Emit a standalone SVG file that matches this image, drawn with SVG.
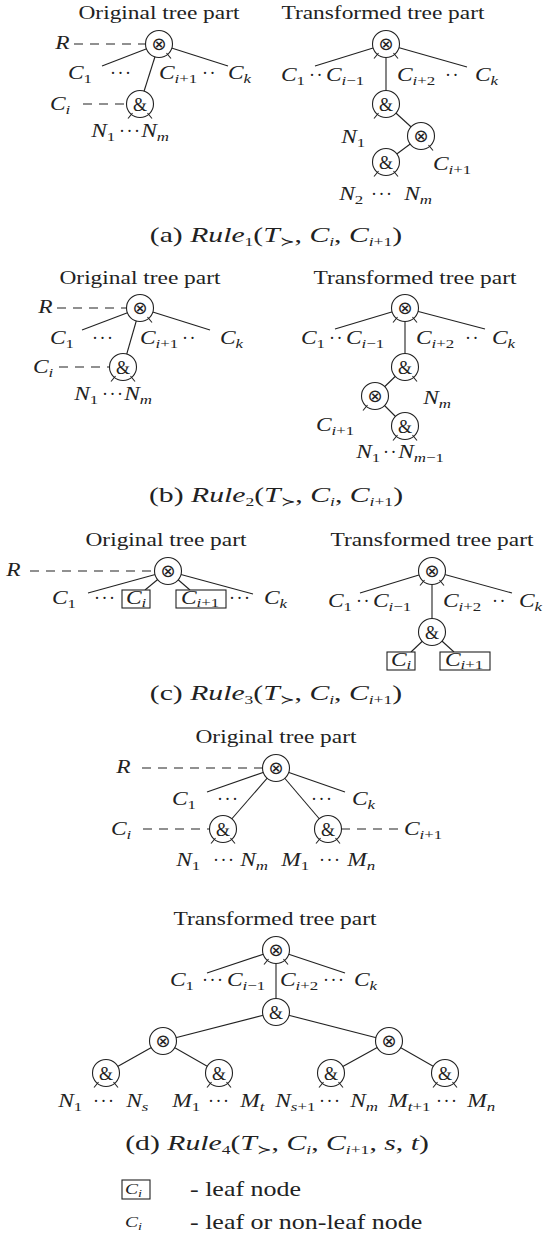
<svg xmlns="http://www.w3.org/2000/svg" width="546" height="1236" viewBox="0 0 546 1236">
<style>
text{font-family:"Liberation Serif","DejaVu Serif",serif;fill:#222}
.ti{font-size:18px;text-anchor:middle;transform-box:fill-box;transform-origin:50% 50%;transform:scaleX(1.3)}
.lb{font-size:18px;font-style:italic;transform-box:fill-box;transform-origin:0 0;transform:scaleX(1.3)}
.sb{font-size:13px}
.up{font-style:normal}
.it{font-style:italic}
.dt{font-size:18px;letter-spacing:1.5px}
.cap{font-size:22px;text-anchor:middle;transform-box:fill-box;transform-origin:50% 50%;transform:scaleX(1.35)}
.op{font-family:"DejaVu Sans",sans-serif;font-size:18px;text-anchor:middle}
.amp{font-size:18px;text-anchor:middle}
.e{stroke:#222;stroke-width:1.1;fill:none}
.d{stroke-dasharray:9 7}
.n{fill:#fff;stroke:#222;stroke-width:1.1}
.bx{fill:#fff;stroke:#222;stroke-width:1.1}
.lg{font-size:20px;transform-box:fill-box;transform-origin:0 0;transform:scaleX(1.3)}
.lgs{font-size:15px}
</style>
<defs>
<g id="stL"><line class="e" x1="-7.5" y1="9" x2="-12" y2="14.5"/></g>
<g id="stR"><line class="e" x1="7.5" y1="9" x2="12" y2="14.5"/></g>
</defs>

<g id="titles">
<text class="ti" x="159" y="19">Original tree part</text>
<text class="ti" x="383" y="19">Transformed tree part</text>
<text class="ti" x="140" y="284">Original tree part</text>
<text class="ti" x="415" y="284">Transformed tree part</text>
<text class="ti" x="166" y="546">Original tree part</text>
<text class="ti" x="432" y="546">Transformed tree part</text>
<text class="ti" x="276" y="743">Original tree part</text>
<text class="ti" x="275" y="925">Transformed tree part</text>
</g>
<g id="captions">
<text class="cap" x="276" y="242">(a) <tspan class="it">Rule</tspan><tspan class="sb" dy="4">1</tspan><tspan dy="-4">(</tspan><tspan class="it">T</tspan><tspan class="sb" dy="4">≻</tspan><tspan dy="-4">, </tspan><tspan class="it">C</tspan><tspan class="sb it" dy="4">i</tspan><tspan dy="-4">, </tspan><tspan class="it">C</tspan><tspan class="sb" dy="4"><tspan class="it">i</tspan>+1</tspan><tspan dy="-4">)</tspan></text>
<text class="cap" x="276" y="502">(b) <tspan class="it">Rule</tspan><tspan class="sb" dy="4">2</tspan><tspan dy="-4">(</tspan><tspan class="it">T</tspan><tspan class="sb" dy="4">≻</tspan><tspan dy="-4">, </tspan><tspan class="it">C</tspan><tspan class="sb it" dy="4">i</tspan><tspan dy="-4">, </tspan><tspan class="it">C</tspan><tspan class="sb" dy="4"><tspan class="it">i</tspan>+1</tspan><tspan dy="-4">)</tspan></text>
<text class="cap" x="276" y="700">(c) <tspan class="it">Rule</tspan><tspan class="sb" dy="4">3</tspan><tspan dy="-4">(</tspan><tspan class="it">T</tspan><tspan class="sb" dy="4">≻</tspan><tspan dy="-4">, </tspan><tspan class="it">C</tspan><tspan class="sb it" dy="4">i</tspan><tspan dy="-4">, </tspan><tspan class="it">C</tspan><tspan class="sb" dy="4"><tspan class="it">i</tspan>+1</tspan><tspan dy="-4">)</tspan></text>
<text class="cap" x="277" y="1150">(d) <tspan class="it">Rule</tspan><tspan class="sb" dy="4">4</tspan><tspan dy="-4">(</tspan><tspan class="it">T</tspan><tspan class="sb" dy="4">≻</tspan><tspan dy="-4">, </tspan><tspan class="it">C</tspan><tspan class="sb it" dy="4">i</tspan><tspan dy="-4">, </tspan><tspan class="it">C</tspan><tspan class="sb" dy="4"><tspan class="it">i</tspan>+1</tspan><tspan dy="-4">, </tspan><tspan class="it">s</tspan>, <tspan class="it">t</tspan>)</text>
</g>

<g id="connectors">
<line class="e d" x1="74" y1="44" x2="147" y2="44"/>
<line class="e" x1="159" y1="44" x2="102" y2="66"/>
<line class="e" x1="159" y1="44" x2="140" y2="104"/>
<line class="e" x1="159" y1="44" x2="228" y2="66"/>
<line class="e d" x1="83" y1="104" x2="128" y2="104"/>
<line class="e" x1="386" y1="44" x2="315" y2="66"/>
<line class="e" x1="386" y1="44" x2="467" y2="67"/>
<line class="e" x1="386" y1="44" x2="386" y2="104"/>
<line class="e" x1="386" y1="104" x2="421" y2="136"/>
<line class="e" x1="421" y1="136" x2="386" y2="162"/>
<line class="e d" x1="57" y1="308" x2="128" y2="308"/>
<line class="e" x1="140" y1="308" x2="82" y2="330"/>
<line class="e" x1="140" y1="308" x2="123" y2="367"/>
<line class="e" x1="140" y1="308" x2="210" y2="330"/>
<line class="e d" x1="59" y1="367" x2="111" y2="367"/>
<line class="e" x1="405" y1="308" x2="335" y2="329"/>
<line class="e" x1="405" y1="308" x2="485" y2="329"/>
<line class="e" x1="405" y1="308" x2="405" y2="367"/>
<line class="e" x1="405" y1="367" x2="375" y2="396"/>
<line class="e" x1="375" y1="396" x2="405" y2="426"/>
<line class="e d" x1="30" y1="571" x2="156" y2="571"/>
<line class="e" x1="168" y1="571" x2="88" y2="593"/>
<line class="e" x1="168" y1="571" x2="145" y2="590"/>
<line class="e" x1="168" y1="571" x2="190" y2="590"/>
<line class="e" x1="168" y1="571" x2="253" y2="594"/>
<line class="e" x1="432" y1="571" x2="360" y2="593"/>
<line class="e" x1="432" y1="571" x2="512" y2="593"/>
<line class="e" x1="432" y1="571" x2="432" y2="632"/>
<line class="e" x1="432" y1="632" x2="411" y2="652"/>
<line class="e" x1="432" y1="632" x2="454" y2="652"/>
<line class="e d" x1="142" y1="768" x2="264" y2="768"/>
<line class="e" x1="276" y1="768" x2="207" y2="792"/>
<line class="e" x1="276" y1="768" x2="223" y2="829"/>
<line class="e" x1="276" y1="768" x2="328" y2="829"/>
<line class="e" x1="276" y1="768" x2="345" y2="792"/>
<line class="e d" x1="143" y1="829" x2="211" y2="829"/>
<line class="e d" x1="341" y1="829" x2="400" y2="829"/>
<line class="e" x1="276" y1="950" x2="207" y2="973"/>
<line class="e" x1="276" y1="950" x2="345" y2="973"/>
<line class="e" x1="276" y1="950" x2="276" y2="1012"/>
<line class="e" x1="276" y1="1012" x2="163" y2="1041"/>
<line class="e" x1="276" y1="1012" x2="389" y2="1041"/>
<line class="e" x1="163" y1="1041" x2="106" y2="1073"/>
<line class="e" x1="163" y1="1041" x2="219" y2="1073"/>
<line class="e" x1="389" y1="1041" x2="331" y2="1073"/>
<line class="e" x1="389" y1="1041" x2="445" y2="1073"/>
</g>

<g id="a-o-root" transform="translate(159,44)"><circle class="n" r="13.5"/><text class="op" y="6">⊗</text><use href="#stR"/></g>
<g id="a-o-and" transform="translate(140,104)"><circle class="n" r="13.5"/><text class="amp" y="6.5">&amp;</text><use href="#stL"/><use href="#stR"/></g>
<g id="a-t-root" transform="translate(386,44)"><circle class="n" r="13.5"/><text class="op" y="6">⊗</text><use href="#stL"/><use href="#stR"/></g>
<g id="a-t-and1" transform="translate(386,104)"><circle class="n" r="13.5"/><text class="amp" y="6.5">&amp;</text><use href="#stL"/></g>
<g id="a-t-or2" transform="translate(421,136)"><circle class="n" r="13.5"/><text class="op" y="6">⊗</text><use href="#stR"/></g>
<g id="a-t-and2" transform="translate(386,162)"><circle class="n" r="13.5"/><text class="amp" y="6.5">&amp;</text><use href="#stL"/><use href="#stR"/></g>

<g id="b-o-root" transform="translate(140,308)"><circle class="n" r="13.5"/><text class="op" y="6">⊗</text><use href="#stR"/></g>
<g id="b-o-and" transform="translate(123,367)"><circle class="n" r="13.5"/><text class="amp" y="6.5">&amp;</text><use href="#stL"/><use href="#stR"/></g>
<g id="b-t-root" transform="translate(405,308)"><circle class="n" r="13.5"/><text class="op" y="6">⊗</text><use href="#stL"/><use href="#stR"/></g>
<g id="b-t-and1" transform="translate(405,367)"><circle class="n" r="13.5"/><text class="amp" y="6.5">&amp;</text><use href="#stR"/></g>
<g id="b-t-or2" transform="translate(375,396)"><circle class="n" r="13.5"/><text class="op" y="6">⊗</text><use href="#stL"/></g>
<g id="b-t-and2" transform="translate(405,426)"><circle class="n" r="13.5"/><text class="amp" y="6.5">&amp;</text><use href="#stL"/><use href="#stR"/></g>

<g id="c-o-root" transform="translate(168,571)"><circle class="n" r="13.5"/><text class="op" y="6">⊗</text></g>
<g id="c-o-ci" transform="translate(122,590)"><rect class="bx" width="28" height="18"/><text class="lb" x="4" y="14">C<tspan class="sb" dy="3">i</tspan></text></g>
<g id="c-o-ci1" transform="translate(176,590)"><rect class="bx" width="50" height="18"/><text class="lb" x="5" y="14">C<tspan class="sb" dy="3">i<tspan class="up">+1</tspan></tspan></text></g>
<g id="c-t-root" transform="translate(432,571)"><circle class="n" r="13.5"/><text class="op" y="6">⊗</text><use href="#stL"/><use href="#stR"/></g>
<g id="c-t-and" transform="translate(432,632)"><circle class="n" r="13.5"/><text class="amp" y="6.5">&amp;</text></g>
<g id="c-t-ci" transform="translate(387,652)"><rect class="bx" width="28" height="18"/><text class="lb" x="4" y="14">C<tspan class="sb" dy="3">i</tspan></text></g>
<g id="c-t-ci1" transform="translate(440,652)"><rect class="bx" width="50" height="18"/><text class="lb" x="5" y="14">C<tspan class="sb" dy="3">i<tspan class="up">+1</tspan></tspan></text></g>

<g id="d-o-root" transform="translate(276,768)"><circle class="n" r="13.5"/><text class="op" y="6">⊗</text></g>
<g id="d-o-andL" transform="translate(223,829)"><circle class="n" r="13.5"/><text class="amp" y="6.5">&amp;</text><use href="#stL"/><use href="#stR"/></g>
<g id="d-o-andR" transform="translate(328,829)"><circle class="n" r="13.5"/><text class="amp" y="6.5">&amp;</text><use href="#stL"/><use href="#stR"/></g>
<g id="d-t-root" transform="translate(276,950)"><circle class="n" r="13.5"/><text class="op" y="6">⊗</text><use href="#stL"/><use href="#stR"/></g>
<g id="d-t-and" transform="translate(276,1012)"><circle class="n" r="13.5"/><text class="amp" y="6.5">&amp;</text></g>
<g id="d-t-orL" transform="translate(163,1041)"><circle class="n" r="13.5"/><text class="op" y="6">⊗</text></g>
<g id="d-t-orR" transform="translate(389,1041)"><circle class="n" r="13.5"/><text class="op" y="6">⊗</text></g>
<g id="d-t-and1" transform="translate(106,1073)"><circle class="n" r="13.5"/><text class="amp" y="6.5">&amp;</text><use href="#stL"/><use href="#stR"/></g>
<g id="d-t-and2" transform="translate(219,1073)"><circle class="n" r="13.5"/><text class="amp" y="6.5">&amp;</text><use href="#stL"/><use href="#stR"/></g>
<g id="d-t-and3" transform="translate(331,1073)"><circle class="n" r="13.5"/><text class="amp" y="6.5">&amp;</text><use href="#stL"/><use href="#stR"/></g>
<g id="d-t-and4" transform="translate(445,1073)"><circle class="n" r="13.5"/><text class="amp" y="6.5">&amp;</text><use href="#stL"/><use href="#stR"/></g>

<g id="labels-a">
<text class="lb" x="55" y="49">R</text>
<text class="lb" x="68" y="79">C<tspan class="sb up" dy="4">1</tspan></text>
<text class="dt" x="110" y="79">···</text>
<text class="lb" x="159" y="79">C<tspan class="sb" dy="4">i<tspan class="up">+1</tspan></tspan></text>
<text class="dt" x="202" y="79">··</text>
<text class="lb" x="228" y="79">C<tspan class="sb" dy="4">k</tspan></text>
<text class="lb" x="50" y="110">C<tspan class="sb" dy="4">i</tspan></text>
<text class="lb" x="91" y="137">N<tspan class="sb up" dy="4">1</tspan></text>
<text class="dt" x="119" y="137">···</text>
<text class="lb" x="141" y="137">N<tspan class="sb" dy="4">m</tspan></text>
<text class="lb" x="281" y="81">C<tspan class="sb up" dy="4">1</tspan></text>
<text class="dt" x="309" y="81">··</text>
<text class="lb" x="326" y="81">C<tspan class="sb" dy="4">i<tspan class="up">−1</tspan></tspan></text>
<text class="lb" x="397" y="81">C<tspan class="sb" dy="4">i<tspan class="up">+2</tspan></tspan></text>
<text class="dt" x="445" y="81">··</text>
<text class="lb" x="475" y="81">C<tspan class="sb" dy="4">k</tspan></text>
<text class="lb" x="341" y="143">N<tspan class="sb up" dy="4">1</tspan></text>
<text class="lb" x="433" y="170">C<tspan class="sb" dy="4">i<tspan class="up">+1</tspan></tspan></text>
<text class="lb" x="339" y="200">N<tspan class="sb up" dy="4">2</tspan></text>
<text class="dt" x="371" y="200">···</text>
<text class="lb" x="404" y="200">N<tspan class="sb" dy="4">m</tspan></text>
</g>
<g id="labels-b">
<text class="lb" x="38" y="313">R</text>
<text class="lb" x="50" y="344">C<tspan class="sb up" dy="4">1</tspan></text>
<text class="dt" x="92" y="344">···</text>
<text class="lb" x="140" y="344">C<tspan class="sb" dy="4">i<tspan class="up">+1</tspan></tspan></text>
<text class="dt" x="182" y="344">··</text>
<text class="lb" x="220" y="344">C<tspan class="sb" dy="4">k</tspan></text>
<text class="lb" x="33" y="373">C<tspan class="sb" dy="4">i</tspan></text>
<text class="lb" x="74" y="400">N<tspan class="sb up" dy="4">1</tspan></text>
<text class="dt" x="102" y="400">···</text>
<text class="lb" x="124" y="400">N<tspan class="sb" dy="4">m</tspan></text>
<text class="lb" x="301" y="344">C<tspan class="sb up" dy="4">1</tspan></text>
<text class="dt" x="329" y="344">··</text>
<text class="lb" x="346" y="344">C<tspan class="sb" dy="4">i<tspan class="up">−1</tspan></tspan></text>
<text class="lb" x="416" y="344">C<tspan class="sb" dy="4">i<tspan class="up">+2</tspan></tspan></text>
<text class="dt" x="465" y="344">··</text>
<text class="lb" x="492" y="344">C<tspan class="sb" dy="4">k</tspan></text>
<text class="lb" x="423" y="404">N<tspan class="sb" dy="4">m</tspan></text>
<text class="lb" x="316" y="431">C<tspan class="sb" dy="4">i<tspan class="up">+1</tspan></tspan></text>
<text class="lb" x="356" y="458">N<tspan class="sb up" dy="4">1</tspan></text>
<text class="dt" x="383" y="458">··</text>
<text class="lb" x="398" y="458">N<tspan class="sb" dy="4">m<tspan class="up">−1</tspan></tspan></text>
</g>
<g id="labels-c">
<text class="lb" x="6" y="576">R</text>
<text class="lb" x="52" y="604">C<tspan class="sb up" dy="4">1</tspan></text>
<text class="dt" x="94" y="604">···</text>
<text class="dt" x="229" y="604">···</text>
<text class="lb" x="264" y="604">C<tspan class="sb" dy="4">k</tspan></text>
<text class="lb" x="328" y="607">C<tspan class="sb up" dy="4">1</tspan></text>
<text class="dt" x="356" y="607">··</text>
<text class="lb" x="373" y="607">C<tspan class="sb" dy="4">i<tspan class="up">−1</tspan></tspan></text>
<text class="lb" x="443" y="607">C<tspan class="sb" dy="4">i<tspan class="up">+2</tspan></tspan></text>
<text class="dt" x="492" y="607">··</text>
<text class="lb" x="519" y="607">C<tspan class="sb" dy="4">k</tspan></text>
</g>
<g id="labels-d">
<text class="lb" x="116" y="773">R</text>
<text class="lb" x="172" y="805">C<tspan class="sb up" dy="4">1</tspan></text>
<text class="dt" x="217" y="805">···</text>
<text class="dt" x="311" y="805">···</text>
<text class="lb" x="352" y="805">C<tspan class="sb" dy="4">k</tspan></text>
<text class="lb" x="111" y="835">C<tspan class="sb" dy="4">i</tspan></text>
<text class="lb" x="404" y="835">C<tspan class="sb" dy="4">i<tspan class="up">+1</tspan></tspan></text>
<text class="lb" x="176" y="866">N<tspan class="sb up" dy="4">1</tspan></text>
<text class="dt" x="213" y="866">···</text>
<text class="lb" x="240" y="866">N<tspan class="sb" dy="4">m</tspan></text>
<text class="lb" x="281" y="866">M<tspan class="sb up" dy="4">1</tspan></text>
<text class="dt" x="319" y="866">···</text>
<text class="lb" x="347" y="866">M<tspan class="sb" dy="4">n</tspan></text>
<text class="lb" x="170" y="986">C<tspan class="sb up" dy="4">1</tspan></text>
<text class="dt" x="202" y="986">···</text>
<text class="lb" x="227" y="986">C<tspan class="sb" dy="4">i<tspan class="up">−1</tspan></tspan></text>
<text class="lb" x="280" y="986">C<tspan class="sb" dy="4">i<tspan class="up">+2</tspan></tspan></text>
<text class="dt" x="323" y="986">···</text>
<text class="lb" x="354" y="986">C<tspan class="sb" dy="4">k</tspan></text>
<text class="lb" x="58" y="1107">N<tspan class="sb up" dy="4">1</tspan></text>
<text class="dt" x="93" y="1107">···</text>
<text class="lb" x="126" y="1107">N<tspan class="sb" dy="4">s</tspan></text>
<text class="lb" x="172" y="1107">M<tspan class="sb up" dy="4">1</tspan></text>
<text class="dt" x="208" y="1107">···</text>
<text class="lb" x="240" y="1107">M<tspan class="sb" dy="4">t</tspan></text>
<text class="lb" x="275" y="1107">N<tspan class="sb" dy="4">s<tspan class="up">+1</tspan></tspan></text>
<text class="dt" x="319" y="1107">···</text>
<text class="lb" x="350" y="1107">N<tspan class="sb" dy="4">m</tspan></text>
<text class="lb" x="388" y="1107">M<tspan class="sb" dy="4">t<tspan class="up">+1</tspan></tspan></text>
<text class="dt" x="436" y="1107">···</text>
<text class="lb" x="467" y="1107">M<tspan class="sb" dy="4">n</tspan></text>
</g>

<g id="legend">
<rect class="bx" x="122" y="1180" width="28" height="19"/>
<text class="lb lgs" x="125" y="1194">C<tspan class="sb" dy="3" style="font-size:11px">i</tspan></text>
<text class="lg" x="190" y="1196">- leaf node</text>
<text class="lb lgs" x="125" y="1227">C<tspan class="sb" dy="3" style="font-size:11px">i</tspan></text>
<text class="lg" x="190" y="1229">- leaf or non-leaf node</text>
</g>
</svg>
